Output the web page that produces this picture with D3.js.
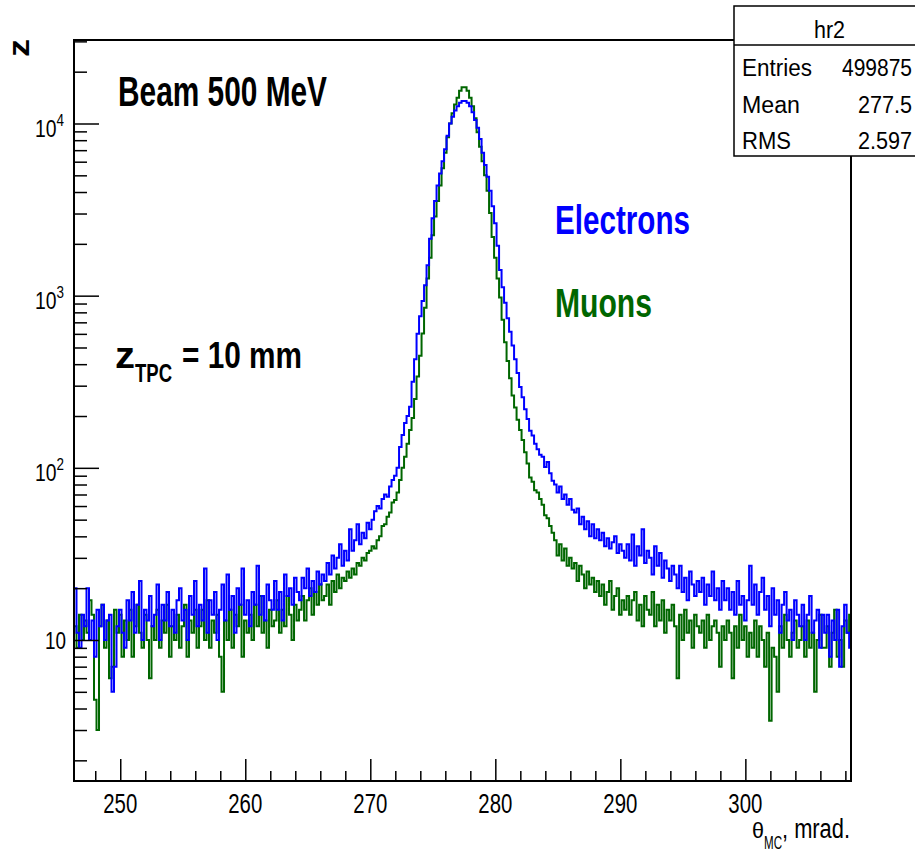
<!DOCTYPE html>
<html>
<head>
<meta charset="utf-8">
<script src="https://cdn.jsdelivr.net/npm/d3@7"></script>
<style>
  body { margin: 0; background: #fff; }
  svg { display: block; }
  text { font-family: "Liberation Sans", Arial, Helvetica, sans-serif; }
</style>
</head>
<body>
<script>
// histogram binning (mrad)
const binStart = 246.3;
const binWidth = 0.2;

// electrons, counts per bin
const electrons = [
  20, 11, 9, 14, 12, 20, 10, 13, 8, 15,
  12, 16, 10, 13, 14, 5, 7, 12, 15, 11,
  9, 17, 13, 19, 11, 16, 22, 10, 15, 13,
  18, 12, 14, 21, 10, 16, 13, 19, 12, 15,
  11, 17, 20, 13, 15, 10, 18, 14, 22, 12,
  16, 13, 26, 11, 17, 14, 19, 10, 15, 21,
  13, 24, 15, 18, 11, 20, 16, 26, 14, 17,
  12, 19, 16, 27, 14, 18, 13, 21, 17, 15,
  22, 15, 19, 13, 24, 18, 20, 16, 23, 19,
  17, 23, 20, 26, 18, 22, 19, 25, 21, 24,
  22, 28, 24, 31, 26, 30, 36, 27, 33, 29,
  44, 33, 38, 47, 36, 42, 39, 48, 44, 50,
  56, 60, 58, 66, 70, 68, 78, 85, 90, 100,
  132, 155, 182, 200, 226, 316, 427, 600, 760, 930,
  1150, 1500, 2140, 2820, 3550, 4370, 5130, 6030, 7080, 8500,
  10000, 10960, 11880, 12590, 13180, 13490, 13490, 13180, 12590, 11610,
  10470, 9440, 8130, 6760, 5750, 4900, 4070, 3310, 2630, 1950,
  1410, 1120, 910, 740, 617, 513, 427, 355, 295, 257,
  219, 192, 164, 154, 138, 128, 119, 116, 101, 108,
  93, 84, 80, 72, 78, 66, 70, 61, 66, 57,
  55, 58, 47, 52, 44, 49, 40, 47, 39, 44,
  38, 42, 35, 39, 34, 37, 40, 32, 36, 33,
  30, 36, 29, 41, 27, 35, 31, 44, 28, 33,
  30, 24, 35, 27, 32, 23, 29, 26, 22, 27,
  24, 20, 27, 19, 23, 17, 25, 21, 18, 22,
  19, 23, 16, 21, 18, 25, 17, 20, 15, 22,
  17, 20, 15, 19, 14, 22, 16, 18, 13, 17,
  27, 16, 21, 14, 19, 23, 15, 18, 12, 20,
  14, 17, 11, 16, 19, 13, 15, 10, 17, 14,
  12, 16, 10, 14, 18, 11, 13, 15, 9, 14,
  11, 14, 8, 13, 10, 15, 7, 12, 16, 11,
  9
];

// muons
const muons = [
  12, 9, 14, 10, 13, 11, 17, 14, 4.5, 3,
  12, 16, 9, 13, 6, 7, 15, 11, 14, 8,
  13, 10, 15, 8, 12, 16, 11, 9, 14, 10,
  6, 12, 10, 15, 9, 13, 11, 16, 8, 12,
  10, 14, 9, 12, 16, 8, 13, 11, 15, 9,
  12, 15, 10, 17, 9, 13, 11, 14, 8, 5,
  13, 10, 15, 9, 14, 12, 16, 8, 13, 11,
  14, 10, 16, 12, 18, 11, 13, 9, 15, 12,
  13, 17, 11, 15, 12, 18, 14, 10, 16, 13,
  15, 18, 13, 17, 20, 14, 19, 16, 21, 17,
  18, 21, 16, 22, 19, 24, 20, 23, 22, 25,
  23, 26, 24, 28, 27, 30, 29, 32, 33, 35,
  34, 38, 40, 46, 47, 52, 55, 63, 65, 72,
  85, 100, 116, 138, 166, 195, 251, 339, 447, 603,
  851, 1260, 1660, 2240, 2880, 3550, 4370, 5500, 6760, 8320,
  10000, 11480, 12880, 14130, 15490, 16220, 16220, 15490, 14130, 12590,
  10720, 8910, 7330, 6030, 5010, 4070, 3020, 2190, 1660, 1260,
  977, 724, 537, 417, 331, 263, 224, 190, 166, 145,
  123, 106, 88, 83, 74, 72, 66, 61, 53, 51,
  46, 42, 38, 31, 36, 29, 34, 27, 30, 26,
  28, 22, 27, 24, 20, 25, 21, 23, 19, 22,
  18, 21, 16, 19, 22, 15, 18, 20, 14, 17,
  15, 18, 14, 17, 19, 13, 16, 12, 18, 15,
  14, 19, 12, 16, 13, 17, 11, 15, 13, 16,
  12, 6, 14, 10, 15, 11, 13, 9, 14, 12,
  11, 13, 9, 14, 10, 12, 13, 11, 7, 12,
  10, 13, 11, 6, 12, 9, 14, 10, 12, 8,
  11, 9, 13, 8, 12, 10, 7, 11, 3.4, 9,
  8, 5, 12, 9, 14, 10, 8, 11, 13, 9,
  10, 12, 8, 13, 9, 11, 5, 10, 14, 9,
  9, 12, 7, 11, 15, 8, 10, 7, 13, 11,
  14
];

const xTicks = [250, 260, 270, 280, 290, 300];
const yDecades = [1, 2, 3, 4];
const statsTitle = "hr2";
const statsNames = ["Entries", "Mean", "RMS"];
const statsValues = ["499875", "277.5", "2.597"];

const W = 915, H = 853;
const frame = { left: 74, right: 851, top: 40, bottom: 781 };
const blue = "#0000ff", green = "#006600";

const svg = d3.select("body").append("svg")
  .attr("width", W).attr("height", H);

const x = d3.scaleLinear().domain([246.3, 308.45]).range([frame.left, frame.right]);
const y = d3.scaleLog().domain([1.517, 30550]).range([frame.bottom, frame.top]);

// text helper: left x, baseline, font size, width the text is squeezed into
function txt(parent, str, x0, y0, size, width, opts = {}) {
  return parent.append("text")
    .attr("x", x0).attr("y", y0)
    .attr("font-size", size)
    .attr("font-weight", opts.bold ? "bold" : "normal")
    .attr("fill", opts.color || "#000")
    .attr("textLength", width)
    .attr("lengthAdjust", "spacingAndGlyphs")
    .text(str);
}

// histograms
svg.append("clipPath").attr("id", "plot")
  .append("rect")
  .attr("x", frame.left).attr("y", frame.top)
  .attr("width", frame.right - frame.left).attr("height", frame.bottom - frame.top);

const stepLine = d3.line()
  .x(d => x(d[0]))
  .y(d => y(d[1]))
  .curve(d3.curveStepAfter);

function steps(vals) {
  const pts = vals.map((v, i) => [binStart + i * binWidth, v]);
  pts.push([binStart + vals.length * binWidth, vals[vals.length - 1]]);
  return pts;
}

const plot = svg.append("g").attr("clip-path", "url(#plot)");
plot.append("path").attr("d", stepLine(steps(muons)))
  .attr("fill", "none").attr("stroke", green).attr("stroke-width", 2);
plot.append("path").attr("d", stepLine(steps(electrons)))
  .attr("fill", "none").attr("stroke", blue).attr("stroke-width", 2);

// x axis ticks (pointing up into the frame)
const xMinor = d3.range(248, 309, 2).filter(v => v % 10 !== 0);
svg.append("g").attr("transform", `translate(0,${frame.bottom})`)
  .call(d3.axisTop(x).tickValues(xTicks).tickSize(22).tickFormat(""))
  .call(g => g.select(".domain").remove())
  .selectAll("line").attr("stroke-width", 1.5);
svg.append("g").attr("transform", `translate(0,${frame.bottom})`)
  .call(d3.axisTop(x).tickValues(xMinor).tickSize(10).tickFormat(""))
  .call(g => g.select(".domain").remove())
  .selectAll("line").attr("stroke-width", 1.5);

xTicks.forEach(t => txt(svg, String(t), x(t) - 17, 812.5, 27, 34));

// y axis ticks (pointing right into the frame)
const yMajor = yDecades.map(d => Math.pow(10, d));
const yMinor = [];
[1, 10, 100, 1000, 10000].forEach(d => {
  for (let k = 2; k <= 9; k++) {
    const v = k * d;
    if (v >= y.domain()[0] && v <= y.domain()[1]) yMinor.push(v);
  }
});
svg.append("g").attr("transform", `translate(${frame.left},0)`)
  .call(d3.axisRight(y).tickValues(yMajor).tickSize(25).tickFormat(""))
  .call(g => g.select(".domain").remove())
  .selectAll("line").attr("stroke-width", 1.5);
svg.append("g").attr("transform", `translate(${frame.left},0)`)
  .call(d3.axisRight(y).tickValues(yMinor).tickSize(13).tickFormat(""))
  .call(g => g.select(".domain").remove())
  .selectAll("line").attr("stroke-width", 1.5);

yDecades.forEach(d => {
  const ty = y(Math.pow(10, d));
  if (d === 1) {
    txt(svg, "10", 45, ty + 9, 24, 21);
  } else {
    const lab = svg.append("text")
      .attr("x", 35).attr("y", ty + 13)
      .attr("font-size", 23)
      .attr("textLength", 29).attr("lengthAdjust", "spacingAndGlyphs");
    lab.append("tspan").text("10");
    lab.append("tspan").attr("dy", -11).attr("font-size", 16).text(String(d));
  }
});

// frame
svg.append("rect")
  .attr("x", frame.left).attr("y", frame.top)
  .attr("width", frame.right - frame.left).attr("height", frame.bottom - frame.top)
  .attr("fill", "none").attr("stroke", "#000").attr("stroke-width", 2);

// axis titles
txt(svg, "θ", 752, 838, 22, 12);
txt(svg, "MC", 764, 849, 18, 18);
txt(svg, ", mrad.", 782, 838, 27, 68);

svg.append("text")
  .attr("transform", "translate(29,57) rotate(-90)")
  .attr("font-size", 30).attr("font-weight", "bold")
  .attr("textLength", 18).attr("lengthAdjust", "spacingAndGlyphs")
  .text("z");

// annotations
txt(svg, "Beam 500 MeV", 118, 106, 43, 209, { bold: true });
txt(svg, "z", 115, 368, 36, 20, { bold: true });
txt(svg, "TPC", 135, 382, 26, 37, { bold: true });
txt(svg, "= 10 mm", 182, 368, 37, 120, { bold: true });
txt(svg, "Electrons", 555, 234, 40, 135, { bold: true, color: blue });
txt(svg, "Muons", 555, 317, 40, 97, { bold: true, color: green });

// stats box
const box = svg.append("g");
box.append("rect")
  .attr("x", 734).attr("y", 6).attr("width", 200).attr("height", 150)
  .attr("fill", "#fff").attr("stroke", "#000").attr("stroke-width", 1.5);
box.append("line")
  .attr("x1", 734).attr("x2", 915).attr("y1", 45).attr("y2", 45)
  .attr("stroke", "#000").attr("stroke-width", 1.5);
txt(box, statsTitle, 814, 38, 23, 31);
const rowBase = [76, 113, 149];
const nameW = [70, 58, 49];
const valueW = [70, 54, 54];
statsNames.forEach((n, i) => {
  txt(box, n, 742, rowBase[i], 23, nameW[i]);
  txt(box, statsValues[i], 912 - valueW[i], rowBase[i], 23, valueW[i]);
});
</script>
</body>
</html>
